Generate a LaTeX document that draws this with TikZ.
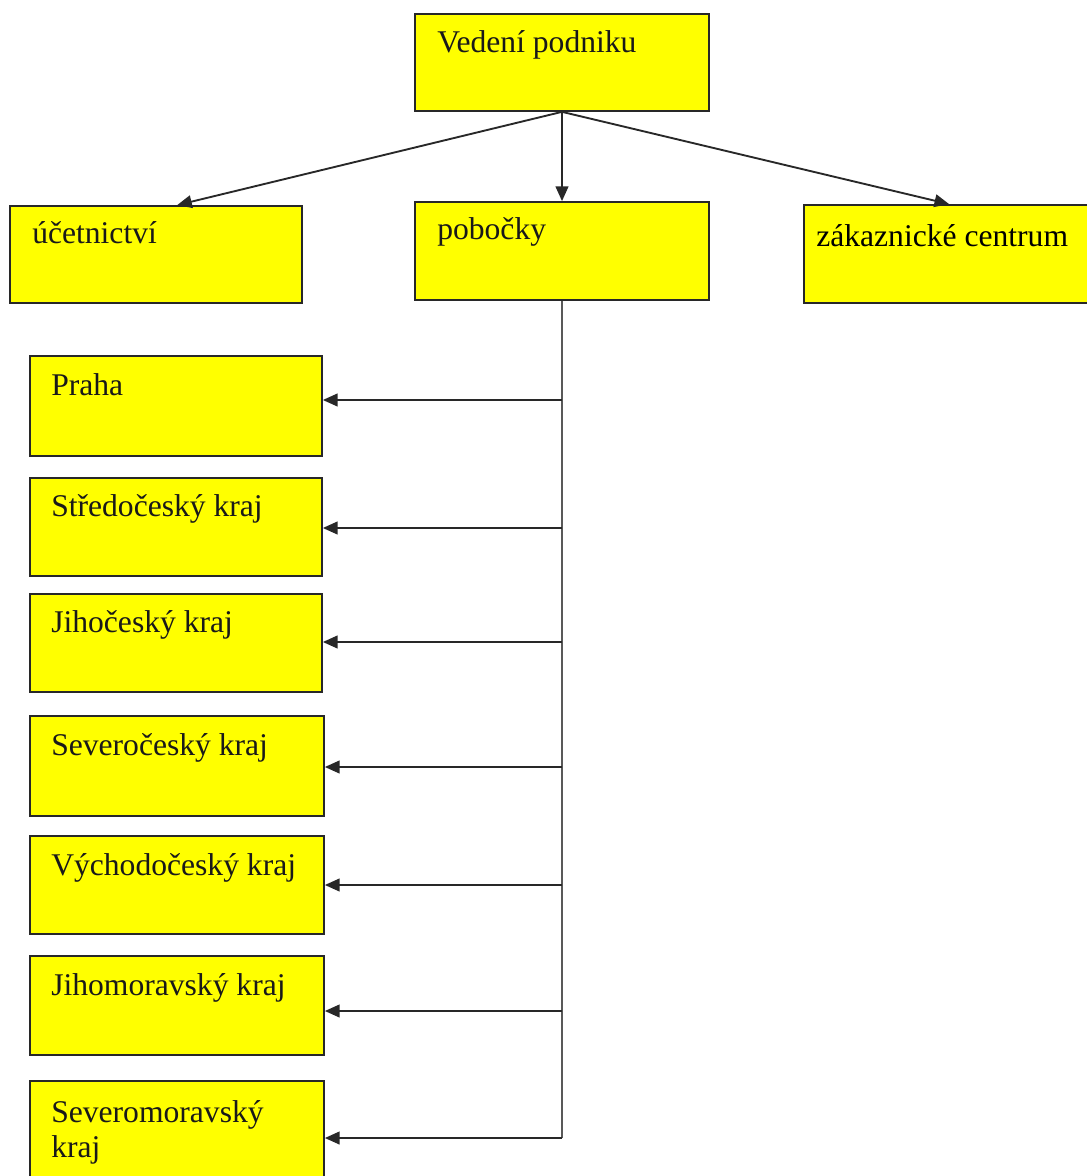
\documentclass[tikz,border=0pt]{standalone}
\usepackage{fontspec}
\setmainfont{Liberation Serif}
\usetikzlibrary{arrows.meta,fit,calc}
\definecolor{ybg}{RGB}{255,255,0}
\definecolor{edge}{RGB}{40,40,40}
\begin{document}
\begin{tikzpicture}[x=0.75pt,y=-0.75pt,
  box/.style={draw=edge,line width=1.3pt,fill=ybg,inner sep=0pt,rectangle},
  lbl/.style={anchor=base west,inner sep=0pt,font=\fontsize{23.7}{25.5}\selectfont,text=black!90},
  conn/.style={draw=edge,line width=1.4pt},
  arr/.style={conn,-{Triangle[length=11pt,width=9.5pt]}}]
\useasboundingbox[fill=white] (0,0) rectangle (1086,1176);
% boxes
\node[box,fit={(415,14) (709,111)}] (ved) {};
\node[box,fit={(10,206) (302,303)}] (uce) {};
\node[box,fit={(415,202) (709,300)}] (pob) {};
\node[box,fit={(804,205) (1092,303)}] (zak) {};
\node[box,fit={(30,356) (322,456)}] (b1) {};
\node[box,fit={(30,478) (322,576)}] (b2) {};
\node[box,fit={(30,594) (322,692)}] (b3) {};
\node[box,fit={(30,716) (324,816)}] (b4) {};
\node[box,fit={(30,836) (324,934)}] (b5) {};
\node[box,fit={(30,956) (324,1055)}] (b6) {};
\node[box,fit={(30,1081) (324,1185)}] (b7) {};
% labels
\node[lbl] (tved) at (437,53) {Vedení podniku};
\node[lbl] (tuce) at (32,244) {účetnictví};
\node[lbl] (tpob) at (437,240) {pobočky};
\node[lbl,text=black] (tzak) at (816,247) {zákaznické centrum};
\node[lbl] (t1) at (51,395) {Praha};
\node[lbl] (t2) at (51,516) {Středočeský kraj};
\node[lbl] (t3) at (51,632) {Jihočeský kraj};
\node[lbl] (t4) at (51,755) {Severočeský kraj};
\node[lbl] (t5) at (51,875) {Východočeský kraj};
\node[lbl] (t6) at (51,995) {Jihomoravský kraj};
\node[lbl] (t7a) at (51,1122) {Severomoravský};
\node[lbl] (t7b) at (51,1157) {kraj};
% top connectors
\draw[arr] (ved.south) -- ($(uce.north west)+(168,0)$);
\draw[arr] (ved.south) -- (pob.north);
\draw[arr] (ved.south) -- ($(zak.north west)+(146,0)$);
% trunk
\coordinate (c1) at (562,400);
\coordinate (c2) at (562,528);
\coordinate (c3) at (562,642);
\coordinate (c4) at (562,767);
\coordinate (c5) at (562,885);
\coordinate (c6) at (562,1011);
\coordinate (c7) at (562,1138);
\draw[conn,draw=black!65] (pob.south) -- (c7);
\draw[arr] (c1) -- (c1 -| b1.east);
\draw[arr] (c2) -- (c2 -| b2.east);
\draw[arr] (c3) -- (c3 -| b3.east);
\draw[arr] (c4) -- (c4 -| b4.east);
\draw[arr] (c5) -- (c5 -| b5.east);
\draw[arr] (c6) -- (c6 -| b6.east);
\draw[arr] (c7) -- (c7 -| b7.east);
\end{tikzpicture}
\end{document}
